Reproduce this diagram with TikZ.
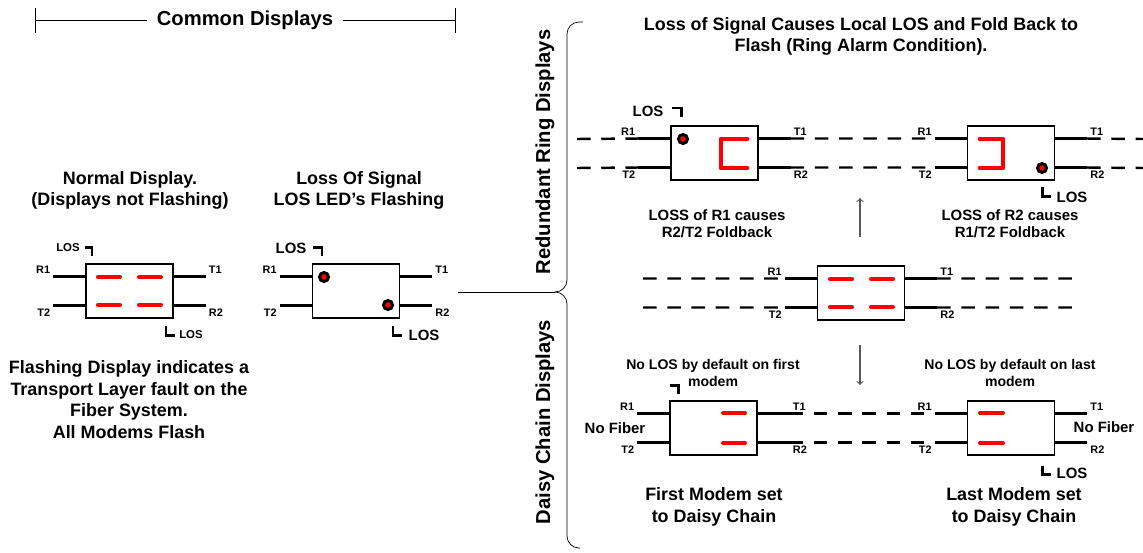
\documentclass[tikz,border=0pt]{standalone}
\usepackage{fontspec}
\setmainfont{Liberation Sans}
\usetikzlibrary{positioning}

\begin{document}
\begin{tikzpicture}[x=0.02cm, y=-0.02cm, font=\bfseries,
    modem/.style={draw, line width=0.7pt, minimum width=1.74cm, minimum height=1.08cm, inner sep=0pt},
    stub/.style={line width=1.8pt},
    fiber/.style={line width=1.4pt, dash pattern=on 7.7pt off 6.1pt},
    seg/.style={red, line width=2.3pt, line cap=round, line join=round},
    led/.style={circle, draw=black, fill=red, line width=1.7pt, minimum size=0.18cm, inner sep=0pt},
    port/.style={font=\bfseries\fontsize{6.2}{7}\selectfont, inner sep=1pt},
    losmark/.style={line width=1.7pt},
    loslbl/.style={font=\bfseries\fontsize{8.5}{10}\selectfont, inner sep=0pt},
    loslblsm/.style={font=\bfseries\fontsize{6.5}{8}\selectfont, inner sep=0pt},
    big/.style={font=\bfseries\fontsize{11.5}{14}\selectfont},
    desc/.style={align=center, font=\bfseries\fontsize{10.2}{12.4}\selectfont},
    note/.style={align=center, font=\bfseries\fontsize{8.5}{9.8}\selectfont},
    flow/.style={->, gray!70!black, line width=0.6pt}]
  \useasboundingbox (0,0) rectangle (1143,552);

  % common displays
  \node[big, inner xsep=0.2cm] (common) at (245,20.5) {Common Displays};
  \coordinate (cl) at (35,20.5);
  \coordinate (cr) at (455,20.5);
  \draw (cl) -- (common) -- (cr);
  \draw (35,8) -- (35,33) (455,8) -- (455,33);

  \node[desc] (normal) at (130,190.5) {Normal Display.\\(Displays not Flashing)};
  \node[desc] (lossig) at (359,190.5) {Loss Of Signal\\LOS LED’s Flashing};
  \node[desc] (flash) at (129,399.5) {Flashing Display indicates a\\Transport Layer fault on the\\Fiber System.\\All Modems Flash};

  % modems
  \node[modem] (nd) at (129.5,291) {};
  \node[modem] (lsd) at (356,291) {};
  \node[modem] (ra) at (714.5,153) {};
  \node[modem] (rb) at (1011,153) {};
  \node[modem] (rc) at (861,293) {};
  \node[modem] (fm) at (713.5,428) {};
  \node[modem] (lm) at (1011,428) {};

  \foreach \b in {nd,lsd,ra,rb,rc,fm,lm} {
    \draw[stub] ([yshift=0.29cm]\b.west) -- ++(-0.64cm,0) coordinate (\b-r1) node[port, anchor=south east] (\b-lr1) {R1};
    \draw[stub] ([yshift=-0.29cm]\b.west) -- ++(-0.64cm,0) coordinate (\b-t2) node[port, anchor=north east] (\b-lt2) {T2};
    \draw[stub] ([yshift=0.29cm]\b.east) -- ++(0.64cm,0) coordinate (\b-t1) node[port, anchor=south west] (\b-lt1) {T1};
    \draw[stub] ([yshift=-0.29cm]\b.east) -- ++(0.64cm,0) coordinate (\b-r2) node[port, anchor=north west] (\b-lr2) {R2};
  }

  % displays
  \foreach \y in {277,305} \foreach \x in {98,139} \draw[seg] (\x,\y) -- ++(22,0);
  \foreach \y in {279,307} \foreach \x in {830,871} \draw[seg] (\x,\y) -- ++(22,0);
  \foreach \y in {413,443} {
    \draw[seg] (723,\y) -- ++(22,0);
    \draw[seg] (980,\y) -- ++(23,0);
  }
  \draw[seg, line width=2.8pt] (747,139) -- (721,139) -- (721,168) -- (747,168);
  \draw[seg, line width=2.8pt] (980,139) -- (1003,139) -- (1003,168) -- (980,168);

  \node[led] (lsd-led1) at (324,277) {};
  \node[led] (lsd-led2) at (388,305) {};
  \node[led] (ra-led) at (683,139) {};
  \node[led] (rb-led) at (1042,168) {};

  % LOS marks
  \draw[losmark] (85,247) -| (92,256);
  \draw[losmark] (166,326) |- (175,335);
  \draw[losmark] (313,247) -| (322,256);
  \draw[losmark] (393,326) |- (402,335);
  \draw[losmark] (672,108) -| (681,117);
  \draw[losmark] (1042,187) |- (1051,196);
  \draw[losmark] (670,385) -| (678,394);
  \draw[losmark] (1042,466) |- (1051,474);
  \node[loslblsm] (nd-los1) at (68,248) {LOS};
  \node[loslblsm] (nd-los2) at (191,335) {LOS};
  \node[loslbl] (lsd-los1) at (291,248) {LOS};
  \node[loslbl] (lsd-los2) at (424,335) {LOS};
  \node[loslbl] (ra-los) at (648,111) {LOS};
  \node[loslbl] (rb-los) at (1072,197) {LOS};
  \node[loslbl] (lm-los) at (1072,473) {LOS};

  % fibers
  \coordinate (al1) at (577,139);   \coordinate (ar1) at (1143,139);
  \coordinate (al2) at (577,168);   \coordinate (ar2) at (1143,168);
  \coordinate (cl1) at (643,278.5); \coordinate (cr1) at (1078,278.5);
  \coordinate (cl2) at (643,307.5); \coordinate (cr2) at (1078,307.5);
  \draw[fiber] (al1) -- (ra-r1) (ra-t1) -- (rb-r1) (rb-t1) -- (ar1);
  \draw[fiber] (al2) -- (ra-t2) (ra-r2) -- (rb-t2) (rb-r2) -- (ar2);
  \draw[fiber] (cl1) -- (rc-r1) (rc-t1) -- (cr1);
  \draw[fiber] (cl2) -- (rc-t2) (rc-r2) -- (cr2);
  \draw[fiber] (fm-t1) -- (lm-r1) (fm-r2) -- (lm-t2);

  % brace
  \coordinate (cd) at (458,292);
  \coordinate (tip) at (555,292);
  \draw (cd) -- (tip);
  \draw[rounded corners=0.24cm] (583,22) -- (567,22) -- (567,292) -- (tip);
  \draw[rounded corners=0.24cm] (tip) -- (567,292) -- (567,548) -- (580,548);
  \node[big, rotate=90] (ringlbl) at (545,152) {Redundant Ring Displays};
  \node[big, rotate=90] (daisylbl) at (545,422) {Daisy Chain Displays};

  % ring texts
  \node[desc] (title) at (861,36.5) {Loss of Signal Causes Local LOS and Fold Back to\\Flash (Ring Alarm Condition).};
  \node[note] (lossr1) at (717,223.5) {LOSS of R1 causes\\R2/T2 Foldback};
  \node[note] (lossr2) at (1010,223.5) {LOSS of R2 causes\\R1/T2 Foldback};
  \coordinate (up0) at (860,237); \coordinate (up1) at (860,198);
  \coordinate (dn0) at (860,345); \coordinate (dn1) at (860,385);
  \draw[flow] (up0) -- (up1);
  \draw[flow] (dn0) -- (dn1);

  % daisy chain texts
  \node[note, font=\bfseries\fontsize{8}{10.2}\selectfont] (nolos1) at (713,373) {No LOS by default on first\\modem};
  \node[note, font=\bfseries\fontsize{8}{10.2}\selectfont] (nolos2) at (1010,373) {No LOS by default on last\\modem};
  \node[note] (nofib1) at (615,428) {No Fiber};
  \node[note] (nofib2) at (1104,427) {No Fiber};
  \node[desc] (first) at (714,506.5) {First Modem set\\to Daisy Chain};
  \node[desc] (last) at (1014,506.5) {Last Modem set\\to Daisy Chain};
\end{tikzpicture}
\end{document}
